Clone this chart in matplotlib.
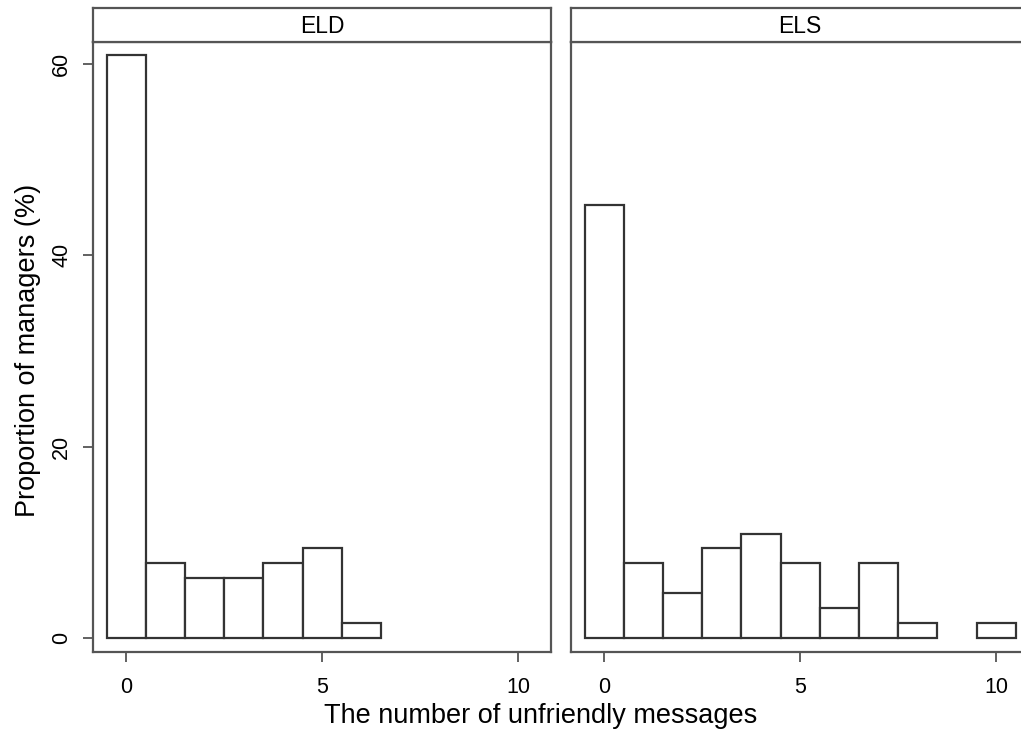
import matplotlib
matplotlib.use("Agg")
import matplotlib.pyplot as plt

plt.rcParams['font.family'] = ['Liberation Sans', 'DejaVu Sans']

# Datos (porcentaje de gerentes por numero de mensajes)
grupos = ["ELD", "ELS"]
mensajes_eld = [0, 1, 2, 3, 4, 5, 6]
pct_eld = [60.9, 7.8, 6.25, 6.25, 7.8, 9.4, 1.56]
mensajes_els = [0, 1, 2, 3, 4, 5, 6, 7, 8, 9, 10]
pct_els = [45.3, 7.8, 4.7, 9.4, 10.9, 7.8, 3.1, 7.8, 1.56, 0, 1.56]

y_ticks = [0, 20, 40, 60]
x_ticks = [0, 5, 10]

W, H = 1021, 739
cor_eixo = '#555555'
cor_barra = '#333333'

fig = plt.figure(figsize=(W / 100, H / 100), dpi=100)

def painel(x0_px, nome, xs, ys, mostrar_y):
    left = x0_px / W
    width = 458 / W
    bottom = 1 - 652 / H
    height = (652 - 42) / H
    ax = fig.add_axes([left, bottom, width, height])
    # barras vazias (0%) nao aparecem no original
    pares = [(x, y) for x, y in zip(xs, ys) if y > 0]
    ax.bar([p[0] for p in pares], [p[1] for p in pares], width=1.0,
           color='white', edgecolor=cor_barra, linewidth=1.6)
    ax.set_xlim(-0.85, 10.84)
    ax.set_ylim(-1.46, 62.31)
    ax.set_xticks(x_ticks)
    ax.set_xticklabels([str(t) for t in x_ticks], fontsize=15.5)
    for s in ax.spines.values():
        s.set_color(cor_eixo)
        s.set_linewidth(1.6)
    ax.tick_params(axis='x', length=7, width=1.3, color=cor_eixo, pad=11)
    if mostrar_y:
        ax.set_yticks(y_ticks)
        ax.set_yticklabels([str(t) for t in y_ticks], fontsize=15.5,
                           rotation=90, va='center')
        ax.tick_params(axis='y', length=7, width=1.3, color=cor_eixo, pad=8)
    else:
        ax.set_yticks([])

    # caixa do titulo do painel
    cab = fig.add_axes([left, 1 - 42 / H, width, 34 / H])
    cab.set_xticks([])
    cab.set_yticks([])
    for s in cab.spines.values():
        s.set_color(cor_eixo)
        s.set_linewidth(1.6)
    cab.text(0.5, 0.45, nome, ha='center', va='center', fontsize=16.5,
             transform=cab.transAxes)
    return ax

painel(93, grupos[0], mensajes_eld, pct_eld, True)
painel(571, grupos[1], mensajes_els, pct_els, False)

fig.text(541 / W, 1 - 716 / H, "The number of unfriendly messages",
         ha='center', va='center', fontsize=19.5)
fig.text(28 / W, 1 - 350 / H, "Proportion of managers (%)",
         ha='center', va='center', rotation=90, fontsize=19.5)

fig.savefig("out.png", dpi=100)
